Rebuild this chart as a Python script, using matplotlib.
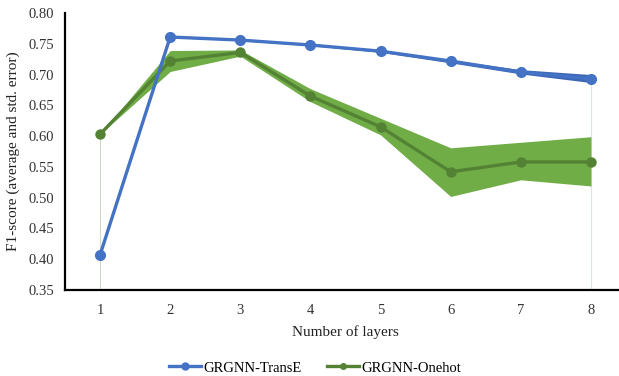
import matplotlib
matplotlib.use("Agg")
import matplotlib.pyplot as plt
from matplotlib.lines import Line2D

plt.rcParams['font.family'] = ['Liberation Serif', 'DejaVu Serif']

layers = [1, 2, 3, 4, 5, 6, 7, 8]

transe_mean = [0.407, 0.761, 0.756, 0.748, 0.738, 0.722, 0.704, 0.693]
transe_low = [0.407, 0.760, 0.755, 0.747, 0.736, 0.719, 0.701, 0.687]
transe_high = [0.407, 0.762, 0.757, 0.749, 0.740, 0.724, 0.708, 0.700]

onehot_mean = [0.603, 0.722, 0.736, 0.665, 0.615, 0.542, 0.558, 0.558]
onehot_low = [0.603, 0.705, 0.730, 0.656, 0.602, 0.502, 0.529, 0.519]
onehot_high = [0.603, 0.739, 0.740, 0.677, 0.629, 0.581, 0.590, 0.599]

yticks = [0.35, 0.40, 0.45, 0.50, 0.55, 0.60, 0.65, 0.70, 0.75, 0.80]

blue = '#4472C4'
green_fill = '#70AD47'
green_line = '#548235'

fig = plt.figure(figsize=(6.19, 3.76), dpi=100)
ax = fig.add_axes([65 / 619, 1 - 290 / 376, (626 - 65) / 619, (290 - 13) / 376])

# thin guide lines at the first and last layer
ax.vlines(layers[0], 0.35, onehot_mean[0], color='#cfdac6', lw=0.8, zorder=1)
ax.vlines(layers[-1], 0.35, transe_mean[-1], color='#dbe3ec', lw=0.8, zorder=1)

ax.fill_between(layers, onehot_low, onehot_high, color=green_fill, lw=0, zorder=2)
ax.plot(layers, onehot_mean, color=green_line, lw=2.4, marker='o', ms=6.5,
        solid_capstyle='round', zorder=3)

ax.fill_between(layers, transe_low, transe_high, color='#3d66b5', lw=0, zorder=4)
ax.plot(layers, transe_mean, color=blue, lw=2.4, marker='o', ms=7,
        solid_capstyle='round', zorder=5)

ax.set_xlim(0.5, 8.5)
ax.set_ylim(0.35, 0.80)
ax.set_xticks(layers)
ax.set_yticks(yticks)
ax.set_yticklabels([f'{v:.2f}' for v in yticks])
ax.tick_params(axis='both', length=0, labelsize=10.5, colors='#333333')
ax.tick_params(axis='x', pad=10)
ax.tick_params(axis='y', pad=8)

for side in ('top', 'right'):
    ax.spines[side].set_visible(False)
for side in ('left', 'bottom'):
    ax.spines[side].set_linewidth(1.6)
    ax.spines[side].set_color('black')

ax.set_xlabel('Number of layers', fontsize=11, color='#222222', labelpad=6)
ax.set_ylabel('F1-score (average and std. error)', fontsize=11, color='#222222', labelpad=6)

handles = [
    Line2D([], [], color=blue, lw=2.4, marker='o', ms=5),
    Line2D([], [], color=green_line, lw=2.4, marker='o', ms=4),
]
fig.legend(handles, ['GRGNN-TransE', 'GRGNN-Onehot'], loc='center',
           bbox_to_anchor=(315 / 619, 1 - 368 / 376), ncol=2, frameon=False,
           fontsize=10.5, handlelength=2.2, handletextpad=0.1, columnspacing=1.8)

fig.savefig('out.png', dpi=100)
